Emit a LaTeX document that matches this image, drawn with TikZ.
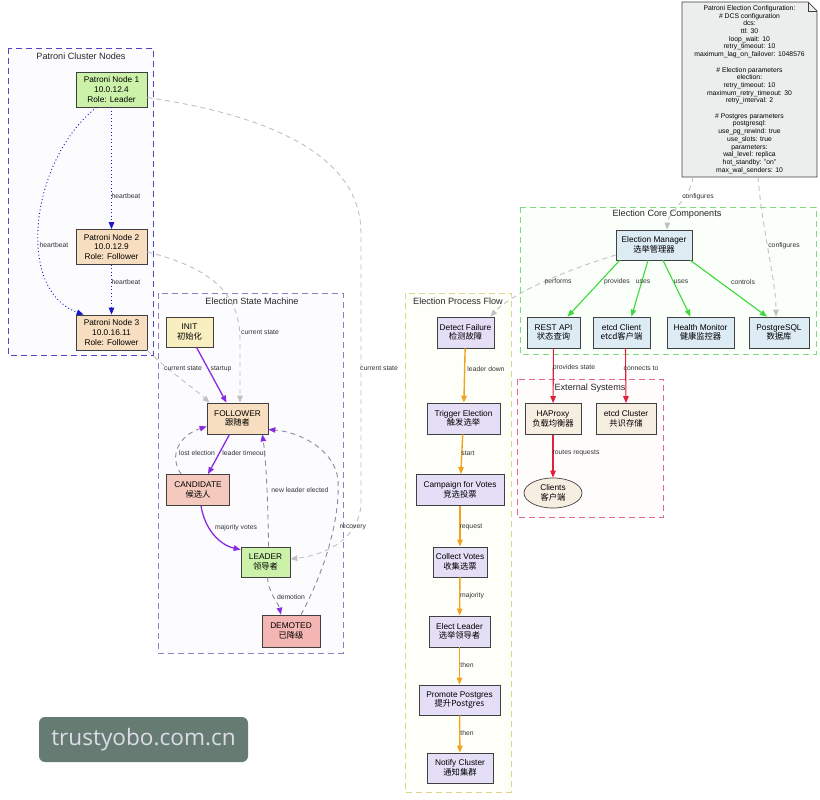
\documentclass[tikz,border=0pt]{standalone}
\usepackage{fontspec}
\setmainfont{Liberation Sans}
\newfontfamily\cjk{Noto Sans CJK SC}
\newfontfamily\wmfont{Open Sans}
\usetikzlibrary{arrows.meta,calc,shapes.geometric}
\newcommand\ndfont{\fontsize{8.3}{9.6}\selectfont}
\newcommand\lblfont{\fontsize{6.8}{7.5}\selectfont}
\newcommand\ttlfont{\fontsize{9.1}{10}\selectfont}
\newcommand\notefont{\fontsize{6.8}{7.7}\selectfont}
\definecolor{cGreen}{HTML}{CCF2AA}
\definecolor{cPeach}{HTML}{F8DEC0}
\definecolor{cInit}{HTML}{F8EEC0}
\definecolor{cCand}{HTML}{F5C9BE}
\definecolor{cDem}{HTML}{F4B6B2}
\definecolor{cLav}{HTML}{E4DEF6}
\definecolor{cBlue}{HTML}{DDEBF5}
\definecolor{cLinen}{HTML}{F7EEE2}
\definecolor{cNote}{HTML}{ECEEEE}
\definecolor{bPat}{HTML}{5044CC}
\definecolor{bSM}{HTML}{8C80C0}
\definecolor{bPF}{HTML}{DDD58A}
\definecolor{bCore}{HTML}{7EDC7E}
\definecolor{bExt}{HTML}{E06A8C}
\definecolor{eHB}{HTML}{1A1AC8}
\definecolor{eGray}{HTML}{C0C0C0}
\definecolor{ePur}{HTML}{8A2BE2}
\definecolor{eDash}{HTML}{8A8A9A}
\definecolor{eGrn}{HTML}{3CD83C}
\definecolor{eRed}{HTML}{E0203C}
\definecolor{eOr}{HTML}{F2A31E}
\definecolor{wmBg}{HTML}{667C72}
\definecolor{wmTx}{HTML}{DCDDE8}
\tikzset{
  nd/.style={draw=black!75, line width=0.7pt, align=center, font=\ndfont, inner sep=0pt},
  lbl/.style={font=\lblfont, text=black!80, inner sep=0pt},
  ttl/.style={font=\ttlfont, text=black!85, inner sep=0pt},
  clu/.style={line width=0.9pt, dash pattern=on 6pt off 4pt},
  arr/.style={-{Triangle[length=7pt,width=5.5pt]}},
  hb/.style={arr, draw=eHB, line width=0.9pt, dash pattern=on 1pt off 2.5pt},
  gr/.style={arr, draw=eGray, line width=0.9pt, dash pattern=on 5pt off 4pt},
  ps/.style={arr, draw=ePur, line width=1.3pt},
  pd/.style={-{Triangle[length=7pt,width=5.5pt,color=ePur]}, draw=eDash, line width=0.9pt, dash pattern=on 5pt off 4pt},
  gn/.style={arr, draw=eGrn, line width=1.1pt},
  rd/.style={arr, draw=eRed, line width=1.1pt},
  og/.style={arr, draw=eOr, line width=1.4pt},
}
\begin{document}
\begin{tikzpicture}[x=1pt,y=-1pt]
\useasboundingbox (0,0) rectangle (820,800);
\fill[white] (0,0) rectangle (820,800);

% clusters
\draw[clu, draw=bPat, fill=blue!1] (8,48) rectangle (153,355);
\node[ttl] (tPat) at (81,56) {Patroni Cluster Nodes};
\draw[clu, draw=bSM, fill=blue!1] (158,293) rectangle (343,653);
\node[ttl] (tSM) at (252,301) {Election State Machine};
\draw[clu, draw=bPF, fill=yellow!2] (405,293) rectangle (511,792);
\node[ttl] (tPF) at (458,301) {Election Process Flow};
\draw[clu, draw=bCore, fill=green!2] (520,207) rectangle (816,354);
\node[ttl] (tCore) at (667,214) {Election Core Components};
\draw[clu, draw=bExt, fill=red!1] (517,379) rectangle (663,517);
\node[ttl] (tExt) at (590,388) {External Systems};

% Patroni nodes
\node[nd, fill=cGreen, minimum width=71pt, minimum height=35pt] (n1) at (111.5,89.5) {Patroni Node 1\\10.0.12.4\\Role: Leader};
\node[nd, fill=cPeach, minimum width=71pt, minimum height=35pt] (n2) at (111.5,247) {Patroni Node 2\\10.0.12.9\\Role: Follower};
\node[nd, fill=cPeach, minimum width=71pt, minimum height=35pt] (n3) at (111.5,332.5) {Patroni Node 3\\10.0.16.11\\Role: Follower};

% state machine
\node[nd, fill=cInit, minimum width=47pt, minimum height=30pt] (init) at (189.5,332) {INIT\\{\cjk 初始化}};
\node[nd, fill=cPeach, minimum width=61pt, minimum height=31pt] (fol) at (237.5,418.5) {FOLLOWER\\{\cjk 跟随者}};
\node[nd, fill=cCand, minimum width=63pt, minimum height=31pt] (cand) at (198,490) {CANDIDATE\\{\cjk 候选人}};
\node[nd, fill=cGreen, minimum width=49pt, minimum height=30pt] (lead) at (265.5,562) {LEADER\\{\cjk 领导者}};
\node[nd, fill=cDem, minimum width=58pt, minimum height=32pt] (dem) at (291,631) {DEMOTED\\{\cjk 已降级}};

% process flow
\node[nd, fill=cLav, minimum width=57pt, minimum height=31pt] (df) at (465.5,332.5) {Detect Failure\\{\cjk 检测故障}};
\node[nd, fill=cLav, minimum width=73pt, minimum height=31pt] (te) at (463.5,418.5) {Trigger Election\\{\cjk 触发选举}};
\node[nd, fill=cLav, minimum width=88pt, minimum height=31pt] (cv) at (460,490) {Campaign for Votes\\{\cjk 竞选投票}};
\node[nd, fill=cLav, minimum width=54pt, minimum height=30pt] (cvo) at (460,562) {Collect Votes\\{\cjk 收集选票}};
\node[nd, fill=cLav, minimum width=61pt, minimum height=31pt] (el) at (459.5,631.5) {Elect Leader\\{\cjk 选举领导者}};
\node[nd, fill=cLav, minimum width=81pt, minimum height=30pt] (pp) at (459.5,700) {Promote Postgres\\{\cjk 提升Postgres}};
\node[nd, fill=cLav, minimum width=66pt, minimum height=30pt] (nc) at (460,768) {Notify Cluster\\{\cjk 通知集群}};

% core
\node[nd, fill=cBlue, minimum width=76pt, minimum height=30pt] (mgr) at (654,245) {Election Manager\\{\cjk 选举管理器}};
\node[nd, fill=cBlue, minimum width=53pt, minimum height=31pt] (rest) at (553.5,332.5) {REST API\\{\cjk 状态查询}};
\node[nd, fill=cBlue, minimum width=57pt, minimum height=31pt] (etc) at (621.5,332.5) {etcd Client\\{\cjk etcd客户端}};
\node[nd, fill=cBlue, minimum width=67pt, minimum height=31pt] (hm) at (700.5,332.5) {Health Monitor\\{\cjk 健康监控器}};
\node[nd, fill=cBlue, minimum width=60pt, minimum height=31pt] (pg) at (779,332.5) {PostgreSQL\\{\cjk 数据库}};

% external
\node[nd, fill=cLinen, minimum width=56pt, minimum height=31pt] (hap) at (553,419) {HAProxy\\{\cjk 负载均衡器}};
\node[nd, fill=cLinen, minimum width=60pt, minimum height=31pt] (ecl) at (626,419) {etcd Cluster\\{\cjk 共识存储}};
\node[nd, ellipse, fill=cLinen, minimum width=58pt, minimum height=30pt] (cli) at (553,493) {Clients\\{\cjk 客户端}};

% config note
\coordinate (note) at (749.5,89.5);
\coordinate (noteNW) at (682,2);
\coordinate (noteNE) at (817,2);
\coordinate (noteSE) at (817,177);
\coordinate (noteSW) at (682,177);
\fill[cNote] (noteNW) -- ($(noteNE)+(-9,0)$) -- ($(noteNE)+(0,9)$) -- (noteSE) -- (noteSW) -- cycle;
\draw[black!75, line width=0.7pt] (noteNW) -- ($(noteNE)+(-9,0)$) -- ($(noteNE)+(0,9)$) -- (noteSE) -- (noteSW) -- cycle;
\draw[black!75, line width=0.7pt] ($(noteNE)+(-9,0)$) -- ($(noteNE)+(-9,9)$) -- ($(noteNE)+(0,9)$);
\node[align=center, font=\notefont, inner sep=0pt] (notetxt) at (note)
{Patroni Election Configuration:\\\# DCS configuration\\dcs:\\ttl: 30\\loop\_wait: 10\\retry\_timeout: 10\\maximum\_lag\_on\_failover: 1048576\\[7.7pt]\# Election parameters\\election:\\retry\_timeout: 10\\maximum\_retry\_timeout: 30\\retry\_interval: 2\\[7.7pt]\# Postgres parameters\\postgresql:\\use\_pg\_rewind: true\\use\_slots: true\\parameters:\\wal\_level: replica\\hot\_standby: "on"\\max\_wal\_senders: 10};

% heartbeat edges
\draw[hb] (n1) -- (n2);
\node[lbl] (lhb1) at (126,196) {heartbeat};
\draw[hb] (n2) -- (n3);
\node[lbl] (lhb2) at (126,282) {heartbeat};
\draw[hb] ($(n1.south)+(-15,0)$) .. controls (30,160) and (15,290) .. ($(n3.north west)+(8,0)$);
\node[lbl] (lhb3) at (54,245) {heartbeat};

% current state edges
\draw[gr] ($(n1.east)+(0,8)$) .. controls (300,120) and (361,170) .. (361,233) -- (361,505) .. controls (358,540) and (325,555) .. ($(lead.east)+(0,-3)$);
\node[lbl] (lcs1) at (379,368) {current state};
\draw[gr] ($(n2.east)+(0,5)$) .. controls (220,270) and (240,300) .. (240,340) -- ($(fol.north)+(2.5,0)$);
\node[lbl] (lcs2) at (260,332) {current state};
\draw[gr] (n3.south east) .. controls (165,368) and (190,385) .. ($(fol.north west)+(3,0)$);
\node[lbl] (lcs3) at (183,368) {current state};

% state transitions
\draw[ps] ($(init.south)+(7,0)$) -- ($(fol.north)+(-11,0)$);
\node[lbl] (lst) at (221,369) {startup};
\draw[ps] ($(fol.south)+(-8,0)$) -- ($(cand.north)+(10,0)$);
\node[lbl] (llt) at (244,453) {leader timeout};
\draw[pd] ($(cand.north west)+(15,0)$) .. controls (168,455) and (180,435) .. ($(fol.west)+(0,8)$);
\node[lbl] (lle) at (197,453) {lost election};
\draw[ps] ($(cand.south)+(3,0)$) .. controls (205,530) and (220,545) .. ($(lead.north west)+(0,3)$);
\node[lbl] (lmv) at (236,528) {majority votes};
\draw[pd] ($(lead.north)+(3,0)$) .. controls (268,500) and (266,460) .. ($(fol.south east)+(-6,0)$);
\node[lbl] (lnl) at (300,490) {new leader elected};
\draw[pd] ($(lead.south)+(2,0)$) .. controls (269,595) and (278,602) .. ($(dem.north)+(-10,0)$);
\node[lbl] (ldm) at (291,597) {demotion};
\draw[pd] ($(dem.north)+(10,0)$) .. controls (325,570) and (340,520) .. (338,480) .. controls (335,450) and (300,432) .. ($(fol.east)+(0,11)$);
\node[lbl] (lrc) at (353,527) {recovery};

% process flow edges
\draw[og] (df) -- (te);
\node[lbl] (lld) at (486,369) {leader down};
\draw[og] (te) -- (cv);
\node[lbl] (lsr) at (468,453) {start};
\draw[og] (cv) -- (cvo);
\node[lbl] (lrq) at (471,527) {request};
\draw[og] (cvo) -- (el);
\node[lbl] (lmj) at (472,596) {majority};
\draw[og] (el) -- (pp);
\node[lbl] (lth1) at (467,665) {then};
\draw[og] (pp) -- (nc);
\node[lbl] (lth2) at (467,733) {then};

% core edges
\draw[gr] ($(mgr.west)+(0,10)$) .. controls (560,272) and (510,295) .. ($(df.north east)+(-4,0)$);
\node[lbl] (lpf) at (558,282) {performs};
\draw[gn] ($(mgr.south west)+(4,0)$) -- ($(rest.north)+(14,0)$);
\node[lbl] (lpv) at (617,282) {provides};
\draw[gn] ($(mgr.south)+(-6,0)$) -- ($(etc.north)+(10,0)$);
\node[lbl] (lus1) at (643,282) {uses};
\draw[gn] ($(mgr.south)+(9,0)$) -- ($(hm.north)+(-10,0)$);
\node[lbl] (lus2) at (681,282) {uses};
\draw[gn] ($(mgr.south east)+(-2,0)$) -- ($(pg.north)+(-12,0)$);
\node[lbl] (lct) at (743,282) {controls};
\draw[gr] ($(noteSW)+(11,0)$) .. controls (690,200) and (668,212) .. ($(mgr.north)+(13,0)$);
\node[lbl] (lcf1) at (698,197) {configures};
\draw[gr] ($(noteSW)+(76,0)$) .. controls (762,230) and (776,280) .. ($(pg.north)+(-3,0)$);
\node[lbl] (lcf2) at (784,246) {configures};

% external edges
\draw[rd] (rest) -- (hap);
\node[lbl] (lps) at (574,368) {provides state};
\draw[rd] ($(etc.south)+(4,0)$) -- (ecl.north);
\node[lbl] (lct2) at (641,368) {connects to};
\draw[rd] (hap) -- (cli);
\node[lbl] (lrr) at (576,453) {routes requests};

% watermark
\node[fill=wmBg, rounded corners=6pt, minimum width=209pt, minimum height=45pt, inner sep=0pt, text=wmTx, font=\wmfont\fontsize{22.6}{23}\selectfont] (wm) at (143.5,739.5) {trustyobo.com.cn};
\end{tikzpicture}
\end{document}
